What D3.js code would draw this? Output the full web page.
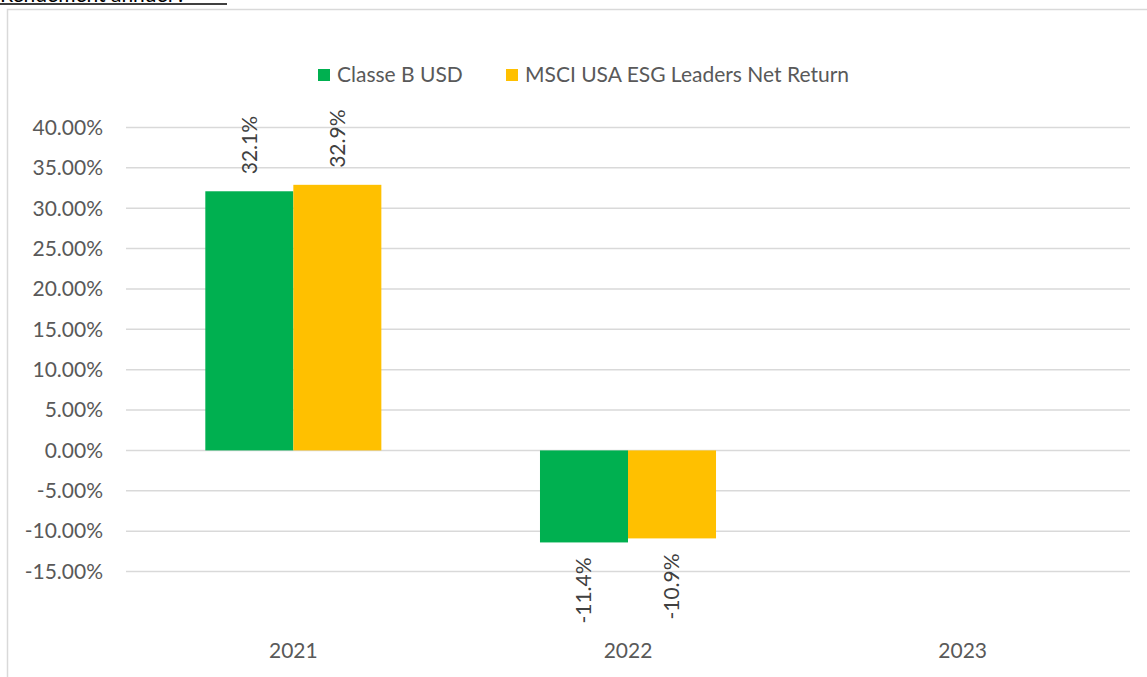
<!DOCTYPE html>
<html>
<head>
<meta charset="utf-8">
<script src="https://cdn.jsdelivr.net/npm/d3@7"></script>
<style>
  body { margin: 0; background: #fff; }
  svg text { font-family: Lato, "Liberation Sans", sans-serif; }
</style>
</head>
<body>
<div id="chart"></div>
<script>
const categories = ["2021", "2022", "2023"];
const seriesNames = ["Classe B USD", "MSCI USA ESG Leaders Net Return"];
const classeB = [32.1, -11.4, null];
const msci = [32.9, -10.9, null];
const yTicks = [40, 35, 30, 25, 20, 15, 10, 5, 0, -5, -10, -15];
const colors = ["#00B050", "#FFC000"];

const width = 1147, height = 677;
const svg = d3.select("#chart").append("svg")
    .attr("width", width)
    .attr("height", height);

// title, mostly cut off at the top like in the source
svg.append("text")
    .attr("x", 0).attr("y", 2)
    .attr("font-size", 21)
    .attr("fill", "#000")
    .text("Rendement annuel :");
svg.append("line")
    .attr("x1", 0).attr("x2", 227)
    .attr("y1", 4).attr("y2", 4)
    .attr("stroke", "#000").attr("stroke-width", 1.5);

// chart frame
svg.append("path")
    .attr("d", "M7.5,677 V9.5 H1147")
    .attr("fill", "none")
    .attr("stroke", "#d9d9d9")
    .attr("stroke-width", 1.5);

const x0 = d3.scaleBand().domain(categories).range([126, 1130]);
const x1 = d3.scaleBand().domain(seriesNames)
    .range([x0.bandwidth() * 0.237, x0.bandwidth() * 0.763]);
const y = d3.scaleLinear().domain([-15, 40]).range([571.5, 127.5]);

// grid
svg.append("g")
    .selectAll("line")
    .data(yTicks)
    .join("line")
    .attr("x1", 126).attr("x2", 1130)
    .attr("y1", d => y(d)).attr("y2", d => y(d))
    .attr("stroke", "#d9d9d9")
    .attr("stroke-width", 1.5);

// y labels
svg.append("g")
    .selectAll("text")
    .data(yTicks)
    .join("text")
    .attr("x", 103)
    .attr("y", d => y(d))
    .attr("dy", "0.35em")
    .attr("text-anchor", "end")
    .attr("font-size", 21)
    .attr("fill", "#595959")
    .text(d => d.toFixed(2) + "%");

// x labels
svg.append("g")
    .selectAll("text")
    .data(categories)
    .join("text")
    .attr("x", d => x0(d) + x0.bandwidth() / 2)
    .attr("y", 651)
    .attr("dy", "0.35em")
    .attr("text-anchor", "middle")
    .attr("font-size", 21)
    .attr("fill", "#595959")
    .text(d => d);

const rows = [];
categories.forEach((c, i) => {
    [classeB, msci].forEach((s, j) => {
        if (s[i] != null) rows.push({ cat: c, name: seriesNames[j], value: s[i], color: colors[j] });
    });
});

svg.append("g")
    .selectAll("rect")
    .data(rows)
    .join("rect")
    .attr("x", d => x0(d.cat) + x1(d.name))
    .attr("width", x1.bandwidth())
    .attr("y", d => y(Math.max(0, d.value)))
    .attr("height", d => Math.abs(y(d.value) - y(0)))
    .attr("fill", d => d.color);

// data labels, rotated
svg.append("g")
    .selectAll("text")
    .data(rows)
    .join("text")
    .attr("transform", d => {
        const cx = x0(d.cat) + x1(d.name) + x1.bandwidth() / 2;
        const ty = d.value >= 0 ? y(d.value) - 17 : y(d.value) + 15;
        return `translate(${cx},${ty}) rotate(-90)`;
    })
    .attr("dy", "0.35em")
    .attr("text-anchor", d => d.value >= 0 ? "start" : "end")
    .attr("font-size", 21)
    .attr("fill", "#404040")
    .text(d => d.value.toFixed(1) + "%");

// legend
const legendPos = [318, 506];
const legend = svg.append("g")
    .selectAll("g")
    .data(seriesNames)
    .join("g")
    .attr("transform", (d, i) => `translate(${legendPos[i]},75)`);
legend.append("rect")
    .attr("x", 0).attr("y", -6)
    .attr("width", 12).attr("height", 12)
    .attr("fill", (d, i) => colors[i]);
legend.append("text")
    .attr("x", 19).attr("y", 0)
    .attr("dy", "0.35em")
    .attr("font-size", 21)
    .attr("fill", "#595959")
    .text(d => d);
</script>
</body>
</html>
